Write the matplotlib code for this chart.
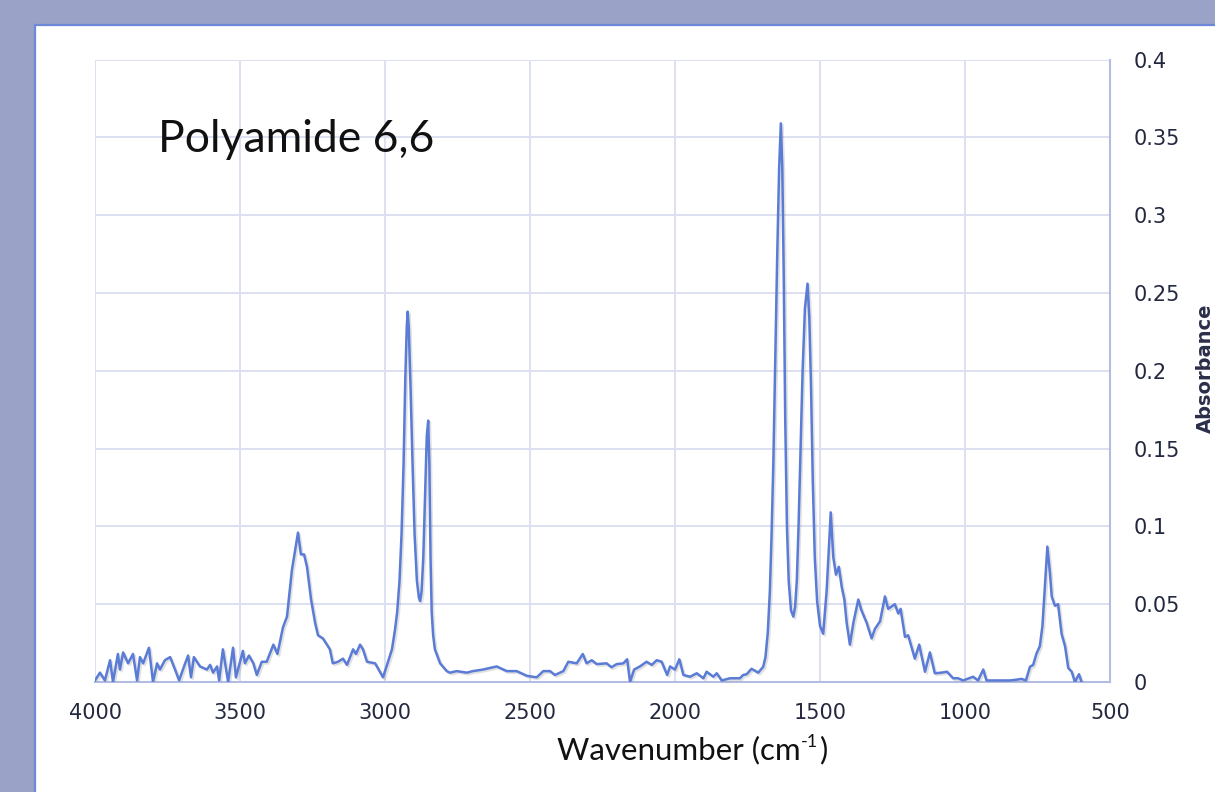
import matplotlib
matplotlib.use("Agg")
import matplotlib.pyplot as plt
from matplotlib.patches import Rectangle
import matplotlib.patheffects as pe

# ---- data ----
wavenumber = [
    4000, 3983, 3966, 3948, 3938, 3921, 3914, 3903, 3886, 3869, 3855, 3845, 3834, 3814,
    3800, 3786, 3776, 3759, 3741, 3724, 3710, 3693, 3679, 3669, 3659, 3638, 3614, 3603,
    3593, 3579, 3572, 3559, 3541, 3524, 3514, 3490, 3483, 3469, 3454, 3442, 3425, 3408,
    3385, 3371, 3352, 3338, 3321, 3300, 3290, 3279, 3269, 3255, 3241, 3231, 3214, 3190,
    3180, 3162, 3145, 3131, 3110, 3100, 3086, 3076, 3062, 3034, 3007, 2993, 2976, 2966,
    2958, 2950, 2943, 2936, 2930, 2925, 2922, 2918, 2912, 2905, 2898, 2890, 2883, 2879,
    2874, 2868, 2862, 2856, 2851, 2847, 2843, 2839, 2834, 2828,
    2810, 2787, 2776, 2753, 2718, 2697, 2662, 2615, 2580, 2546,
    2511, 2477, 2454, 2431, 2414, 2385, 2368, 2339, 2318, 2305, 2287, 2270, 2236, 2219,
    2201, 2178, 2165, 2155, 2141, 2121, 2098, 2080, 2063, 2046, 2027, 2017, 2000, 1985,
    1971, 1948, 1925, 1902, 1891, 1868, 1856, 1839, 1810, 1776, 1765, 1753, 1736, 1713,
    1696, 1688, 1680, 1673, 1667, 1661, 1655, 1648, 1641, 1635, 1630, 1625, 1620, 1614,
    1608, 1600, 1592, 1586, 1580, 1574, 1567, 1560, 1552, 1543, 1537, 1531, 1525, 1518,
    1510, 1500, 1489, 1477, 1463, 1454, 1445, 1435, 1425, 1416, 1408,
    1397, 1385, 1368, 1357, 1339, 1322, 1311, 1293, 1276, 1265, 1242, 1230, 1222, 1207,
    1196, 1173, 1158, 1138, 1121, 1104, 1081, 1062, 1041, 1024, 1006, 972, 955, 937,
    926, 880, 845, 822, 805, 790, 776, 765, 754, 742, 733, 724, 716, 707, 701, 690, 679,
    667, 655, 644, 632, 621, 607, 598,
]
absorbance = [
    0.001, 0.006, 0.001, 0.014, 0.000, 0.018, 0.008, 0.019, 0.012, 0.018, 0.001, 0.016, 0.012, 0.022,
    0.000, 0.012, 0.008, 0.014, 0.016, 0.008, 0.001, 0.010, 0.017, 0.003, 0.016, 0.010, 0.008, 0.011,
    0.006, 0.010, 0.001, 0.021, 0.000, 0.022, 0.003, 0.020, 0.012, 0.017, 0.012, 0.0045, 0.013, 0.013,
    0.024, 0.018, 0.035, 0.042, 0.072, 0.096, 0.082, 0.082, 0.074, 0.053, 0.038, 0.030, 0.028, 0.021,
    0.012, 0.013, 0.015, 0.011, 0.021, 0.018, 0.024, 0.021, 0.013, 0.012, 0.003, 0.011, 0.021, 0.033,
    0.045, 0.065, 0.095, 0.140, 0.195, 0.228, 0.238, 0.228, 0.190, 0.140, 0.095, 0.065, 0.054, 0.052,
    0.058, 0.080, 0.120, 0.158, 0.168, 0.140, 0.080, 0.045, 0.030, 0.021,
    0.012, 0.007, 0.006, 0.007, 0.006, 0.007, 0.008, 0.010, 0.007, 0.007,
    0.004, 0.003, 0.007, 0.007, 0.0045, 0.007, 0.013, 0.012, 0.018, 0.012, 0.014, 0.0115, 0.012, 0.0095,
    0.0115, 0.012, 0.0146, 0.000, 0.008, 0.010, 0.013, 0.011, 0.014, 0.013, 0.0045, 0.010, 0.008, 0.0146,
    0.0045, 0.0034, 0.0056, 0.0024, 0.0066, 0.0034, 0.0056, 0.001, 0.0024, 0.0024, 0.0045, 0.005, 0.0085, 0.006,
    0.0097, 0.016, 0.032, 0.058, 0.095, 0.140, 0.200, 0.270, 0.330, 0.359, 0.330, 0.260, 0.170, 0.100,
    0.065, 0.046, 0.042, 0.048, 0.065, 0.100, 0.150, 0.200, 0.240, 0.256, 0.235, 0.190, 0.130, 0.080,
    0.052, 0.036, 0.031, 0.059, 0.109, 0.080, 0.069, 0.074, 0.061, 0.053, 0.038,
    0.024, 0.038, 0.053, 0.046, 0.038, 0.028, 0.034, 0.039, 0.055, 0.047, 0.050, 0.044, 0.047, 0.029,
    0.030, 0.015, 0.024, 0.0066, 0.019, 0.0056, 0.006, 0.0066, 0.0024, 0.0024, 0.001, 0.0034, 0.001, 0.008,
    0.001, 0.001, 0.001, 0.0015, 0.002, 0.001, 0.0098, 0.011, 0.018, 0.023, 0.036, 0.063, 0.087, 0.070, 0.055, 0.049, 0.050,
    0.031, 0.023, 0.009, 0.0066, 0.000, 0.005, 0.000,
]
x_ticks = [4000, 3500, 3000, 2500, 2000, 1500, 1000, 500]
y_ticks = [0, 0.05, 0.1, 0.15, 0.2, 0.25, 0.3, 0.35, 0.4]
y_ticklabels = ["0", "0.05", "0.1", "0.15", "0.2", "0.25", "0.3", "0.35", "0.4"]
title_text = "Polyamide 6,6"
x_label_main = "Wavenumber (cm"
x_label_sup = "-1"
x_label_end = ")"
y_label = "Absorbance"

W, H = 1215, 792
fig = plt.figure(figsize=(W / 100, H / 100), dpi=100)
fig.patch.set_facecolor("#9aa2c8")
fig.patches.append(Rectangle((35 / W, -0.05), 1.1, 1 - 25 / H + 0.05, transform=fig.transFigure,
                             facecolor="white", edgecolor="#6e88d8", lw=1.6, zorder=-5))

ax = fig.add_axes([95 / W, 1 - 682 / H, (1110 - 95) / W, (682 - 59.6) / H])
ax.set_zorder(2)
ax.set_facecolor("none")
ax.plot(wavenumber, absorbance, color="#5a7bd6", lw=1.8, zorder=3,
        path_effects=[pe.SimpleLineShadow(offset=(1.2, -1.2), shadow_color="#888888", alpha=0.25),
                      pe.Normal()])
ax.set_xlim(4000, 500)
ax.set_ylim(0, 0.4)
ax.set_xticks(x_ticks)
ax.set_yticks(y_ticks)
ax.set_yticklabels(y_ticklabels)
ax.yaxis.tick_right()
ax.grid(True, color="#dde0f0", lw=1.4, zorder=0)
ax.set_axisbelow(True)
for s in ["left", "top"]:
    ax.spines[s].set_visible(False)
for s in ["right", "bottom"]:
    ax.spines[s].set_color("#b3bce2")
    ax.spines[s].set_linewidth(1.5)
ax.tick_params(axis="both", length=0, labelsize=15, labelcolor="#24283f")
ax.tick_params(axis="y", pad=17)
ax.tick_params(axis="x", pad=15)
for lbl in ax.get_yticklabels():
    lbl.set_horizontalalignment("left")

fig.text(1205 / W, 1 - 368 / H, y_label, rotation=90, fontsize=14, fontweight="bold",
         color="#2a2e48", ha="center", va="center", zorder=5)
fig.text(158 / W, 1 - 140 / H, title_text, family="Lato",
         fontsize=32, color="#111111", ha="left", va="center", zorder=5)

# x-axis label built from pieces so the superscript uses a short hyphen
renderer = fig.canvas.get_renderer()
t_main = fig.text(557 / W, 1 - 750 / H, x_label_main, family="Lato", fontsize=22.5,
                  color="#111111", ha="left", va="center", zorder=5)
bb = t_main.get_window_extent(renderer)
t_sup = fig.text(bb.x1 / W, (bb.y0 + bb.height * 0.78) / H, x_label_sup, family="Lato",
                 fontsize=13, color="#111111", ha="left", va="center", zorder=5)
bb2 = t_sup.get_window_extent(renderer)
fig.text(bb2.x1 / W + 1 / W, 1 - 750 / H, x_label_end, family="Lato", fontsize=22.5,
         color="#111111", ha="left", va="center", zorder=5)

fig.savefig("out.png", dpi=100, facecolor=fig.get_facecolor())
